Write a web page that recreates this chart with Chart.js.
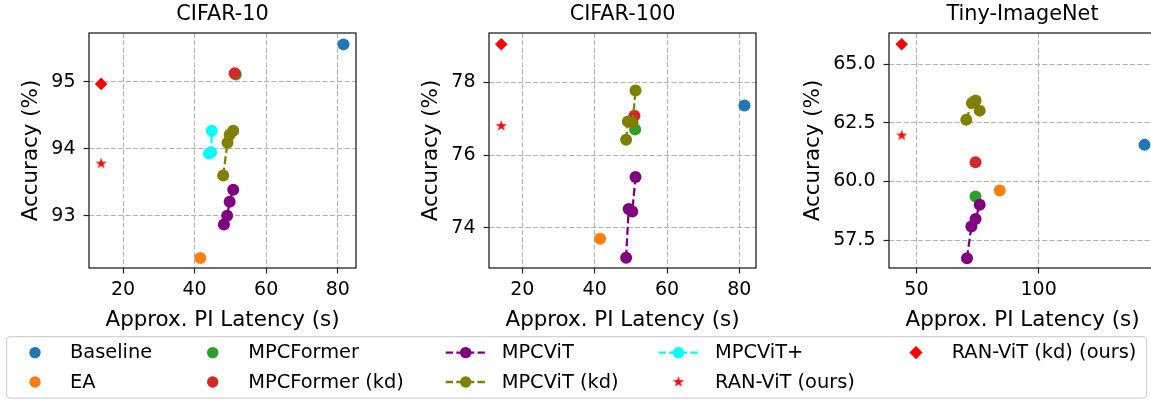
<!DOCTYPE html>
<html>
<head>
<meta charset="utf-8">
<script src="https://cdn.jsdelivr.net/npm/chart.js@4.4.1/dist/chart.umd.min.js"></script>
<style>
  html, body { margin:0; padding:0; background:#fff; }
  body { width:1151px; height:401px; overflow:hidden; position:relative; font-family:'DejaVu Sans', sans-serif; }
  canvas.plot { position:absolute; top:0; width:380px; height:335px; }
  #lg { position:absolute; left:0; top:335px; width:1151px; height:66px; }
  .lt { position:absolute; font-size:19.4px; line-height:24px; white-space:nowrap; color:#000; }
</style>
</head>
<body>
<canvas id="c1" class="plot" width="380" height="335" style="left:0px"></canvas>
<canvas id="c2" class="plot" width="380" height="335" style="left:400px"></canvas>
<canvas id="c3" class="plot" width="380" height="335" style="left:800px"></canvas>
<canvas id="lg" width="1151" height="66"></canvas>
<div id="legendText"></div>
<script>
// ---------------- DATA ----------------
const seriesLabels = ['Baseline', 'EA', 'MPCFormer', 'MPCFormer (kd)', 'MPCViT', 'MPCViT (kd)', 'MPCViT+', 'RAN-ViT (ours)', 'RAN-ViT (kd) (ours)'];
const plotTitles = ['CIFAR-10', 'CIFAR-100', 'Tiny-ImageNet'];
const xAxisTitle = 'Approx. PI Latency (s)';
const yAxisTitle = 'Accuracy (%)';

// CIFAR-10  [latency, accuracy]
const c10Baseline     = [[81.6, 95.56]];
const c10EA           = [[41.6, 92.37]];
const c10MPCFormer    = [[51.5, 95.11]];
const c10MPCFormerKD  = [[51.2, 95.13]];
const c10MPCViT       = [[48.2, 92.87], [49.1, 93.00], [49.8, 93.21], [50.8, 93.39]];
const c10MPCViTKD     = [[48.0, 93.60], [49.2, 94.09], [49.8, 94.21], [50.8, 94.27]];
const c10MPCViTPlus   = [[44.0, 93.93], [44.6, 93.95], [44.8, 94.27]];
const c10RAN          = [[13.9, 93.78]];
const c10RANKD        = [[13.9, 94.97]];

// CIFAR-100
const c100Baseline    = [[81.4, 77.36]];
const c100EA          = [[41.5, 73.70]];
const c100MPCFormer   = [[51.2, 76.70]];
const c100MPCFormerKD = [[51.0, 77.08]];
const c100MPCViT      = [[48.7, 73.18], [49.4, 74.52], [50.4, 74.45], [51.3, 75.40]];
const c100MPCViTKD    = [[48.7, 76.42], [49.2, 76.92], [50.5, 76.89], [51.3, 77.77]];
const c100MPCViTPlus  = [];
const c100RAN         = [[14.2, 76.80]];
const c100RANKD       = [[14.2, 79.04]];

// Tiny-ImageNet
const tinyBaseline    = [[143.3, 61.56]];
const tinyEA          = [[84.1, 59.61]];
const tinyMPCFormer   = [[74.2, 59.36]];
const tinyMPCFormerKD = [[74.2, 60.82]];
const tinyMPCViT      = [[70.7, 56.73], [72.5, 58.08], [74.2, 58.40], [75.9, 59.01]];
const tinyMPCViTKD    = [[70.4, 62.63], [72.7, 63.34], [74.2, 63.45], [75.9, 63.02]];
const tinyMPCViTPlus  = [];
const tinyRAN         = [[44.0, 61.96]];
const tinyRANKD       = [[44.0, 65.85]];

// axis limits and ticks
const c10XLim = [10.5, 85.1],  c10YLim = [92.22, 95.73];
const c100XLim = [10.8, 84.6], c100YLim = [72.90, 79.35];
const tinyXLim = [38.8, 148.0], tinyYLim = [56.31, 66.33];
const c10XTicks = [20, 40, 60, 80],  c10XTickLabels = ['20', '40', '60', '80'];
const c10YTicks = [93, 94, 95],      c10YTickLabels = ['93', '94', '95'];
const c100XTicks = [20, 40, 60, 80], c100XTickLabels = ['20', '40', '60', '80'];
const c100YTicks = [74, 76, 78],     c100YTickLabels = ['74', '76', '78'];
const tinyXTicks = [50, 100],        tinyXTickLabels = ['50', '100'];
const tinyYTicks = [57.5, 60, 62.5, 65], tinyYTickLabels = ['57.5', '60.0', '62.5', '65.0'];

// ---------------- STYLE ----------------
const FONT = "'DejaVu Sans', sans-serif";
const colors = ['#1f77b4', '#ff7f0e', '#2ca02c', '#d62728', '#800080', '#808000', '#00ffff', '#ff0000', '#ff0000'];
const kinds  = ['dot', 'dot', 'dot', 'dot', 'line', 'line', 'line', 'star', 'diamond'];
const drawOrder = [9, 8, 7, 6, 3, 2, 1, 5, 4];

function makeStar(R, color) {
  const s = Math.ceil(R * 2 + 2);
  const c = document.createElement('canvas');
  c.width = s; c.height = s;
  const g = c.getContext('2d');
  g.fillStyle = color;
  g.beginPath();
  const cx = s / 2, cy = s / 2;
  for (let i = 0; i < 10; i++) {
    const r = i % 2 === 0 ? R : R * 0.381966;
    const a = -Math.PI / 2 + i * Math.PI / 5;
    const px = cx + r * Math.cos(a), py = cy + r * Math.sin(a);
    if (i === 0) g.moveTo(px, py); else g.lineTo(px, py);
  }
  g.closePath(); g.fill();
  return c;
}
const starImg = makeStar(6, '#ff0000');

function toPts(arr) { return arr.map(p => ({x: p[0], y: p[1]})); }

function buildDatasets(seriesArrays) {
  return seriesArrays.map((arr, i) => {
    const k = kinds[i];
    const ds = {
      label: seriesLabels[i],
      data: toPts(arr),
      order: drawOrder[i],
      backgroundColor: colors[i],
      borderColor: colors[i],
      pointBackgroundColor: colors[i],
      pointBorderColor: colors[i],
      pointBorderWidth: 0,
      pointRadius: 6,
      showLine: false,
      clip: false
    };
    if (k === 'line') {
      ds.showLine = true;
      ds.borderWidth = 2.3;
      ds.borderDash = [8, 3.5];
      ds.tension = 0;
    } else if (k === 'star') {
      ds.pointStyle = starImg;
    } else if (k === 'diamond') {
      ds.pointStyle = 'rectRot';
      ds.pointRadius = 6.3;
    }
    return ds;
  });
}

function axisCfg(lim, ticks, labels, title, isX, titlePad) {
  return {
    type: 'linear',
    min: lim[0], max: lim[1],
    afterBuildTicks: s => { s.ticks = ticks.map(v => ({value: v})); },
    afterFit: isX ? (s => { s.height = 67; }) : (s => { s.width = 89; }),
    grid: { color: '#b0b0b0', lineWidth: 1, drawTicks: true, tickLength: 5.5, tickColor: '#222', tickWidth: 1.2, tickBorderDash: [] },
    border: { display: false, dash: [5, 2.3] },
    ticks: { color: '#000', font: {family: FONT, size: 19}, padding: isX ? 5.3 : 8, maxRotation: 0, autoSkip: false,
             callback: (v, i) => labels[i] },
    title: { display: true, text: title, color: '#000', font: {family: FONT, size: 21.4},
             padding: isX ? {top: 0, bottom: 2.2} : {top: titlePad, bottom: 0} }
  };
}

const framePlugin = {
  id: 'frame',
  afterDatasetsDraw(chart) {
    const {ctx, chartArea: a} = chart;
    ctx.save();
    ctx.strokeStyle = '#222';
    ctx.lineWidth = 1.3;
    ctx.setLineDash([]);
    ctx.strokeRect(a.left, a.top, a.right - a.left, a.bottom - a.top);
    ctx.restore();
  }
};

function makeChart(id, title, series, xLim, yLim, xT, xL, yT, yL, yTitlePad) {
  return new Chart(document.getElementById(id), {
    type: 'scatter',
    data: { datasets: buildDatasets(series) },
    options: {
      responsive: false, animation: false, devicePixelRatio: 1,
      layout: { padding: {left: 0, right: 24, top: 0, bottom: 0} },
      plugins: {
        legend: { display: false },
        tooltip: { enabled: false },
        title: { display: true, text: title, color: '#000', fullSize: false,
                 font: {family: FONT, size: 20.8, weight: 'normal'}, padding: {top: 1.8, bottom: 6.24} }
      },
      scales: {
        x: axisCfg(xLim, xT, xL, xAxisTitle, true, 0),
        y: axisCfg(yLim, yT, yL, yAxisTitle, false, yTitlePad)
      }
    },
    plugins: [framePlugin]
  });
}

makeChart('c1', plotTitles[0],
  [c10Baseline, c10EA, c10MPCFormer, c10MPCFormerKD, c10MPCViT, c10MPCViTKD, c10MPCViTPlus, c10RAN, c10RANKD],
  c10XLim, c10YLim, c10XTicks, c10XTickLabels, c10YTicks, c10YTickLabels, 18.9);
makeChart('c2', plotTitles[1],
  [c100Baseline, c100EA, c100MPCFormer, c100MPCFormerKD, c100MPCViT, c100MPCViTKD, c100MPCViTPlus, c100RAN, c100RANKD],
  c100XLim, c100YLim, c100XTicks, c100XTickLabels, c100YTicks, c100YTickLabels, 18.9);
makeChart('c3', plotTitles[2],
  [tinyBaseline, tinyEA, tinyMPCFormer, tinyMPCFormerKD, tinyMPCViT, tinyMPCViTKD, tinyMPCViTPlus, tinyRAN, tinyRANKD],
  tinyXLim, tinyYLim, tinyXTicks, tinyXTickLabels, tinyYTicks, tinyYTickLabels, 0.5);

// ---------------- LEGEND (5 columns, column-major) ----------------
(function drawLegend() {
  const cv = document.getElementById('lg');
  const g = cv.getContext('2d');
  g.strokeStyle = '#d3d3d3';
  g.lineWidth = 1.2;
  g.beginPath();
  if (g.roundRect) g.roundRect(6.6, 1.6, 1140, 61.6, 4); else g.rect(6.6, 1.6, 1140, 61.6);
  g.stroke();

  const markerX = [35, 212.7, 465.7, 678.5, 916];
  const textX = [70, 248.3, 501.7, 715, 951.7];
  const markerY = [352.6 - 335, 382 - 335];
  const textTop = [339.5, 369.6];
  const holder = document.getElementById('legendText');

  seriesLabels.forEach((lab, i) => {
    const col = Math.floor(i / 2), row = i % 2;
    const mx = markerX[col], my = markerY[row];
    const k = kinds[i];
    g.fillStyle = colors[i];
    g.strokeStyle = colors[i];
    if (k === 'line') {
      g.save();
      g.lineWidth = 2.3;
      g.setLineDash([7.4, 3.2]);
      g.beginPath(); g.moveTo(mx - 20, my); g.lineTo(mx + 20, my); g.stroke();
      g.restore();
      g.beginPath(); g.arc(mx, my, 5.7, 0, Math.PI * 2); g.fill();
    } else if (k === 'dot') {
      g.beginPath(); g.arc(mx, my, 5.7, 0, Math.PI * 2); g.fill();
    } else if (k === 'star') {
      g.drawImage(starImg, mx - starImg.width / 2, my - starImg.height / 2);
    } else if (k === 'diamond') {
      const r = 6.6;
      g.beginPath(); g.moveTo(mx - r, my); g.lineTo(mx, my - r); g.lineTo(mx + r, my); g.lineTo(mx, my + r); g.closePath(); g.fill();
    }
    const d = document.createElement('div');
    d.className = 'lt';
    d.style.left = textX[col] + 'px';
    d.style.top = textTop[row] + 'px';
    d.textContent = lab;
    holder.appendChild(d);
  });
})();
</script>
</body>
</html>
